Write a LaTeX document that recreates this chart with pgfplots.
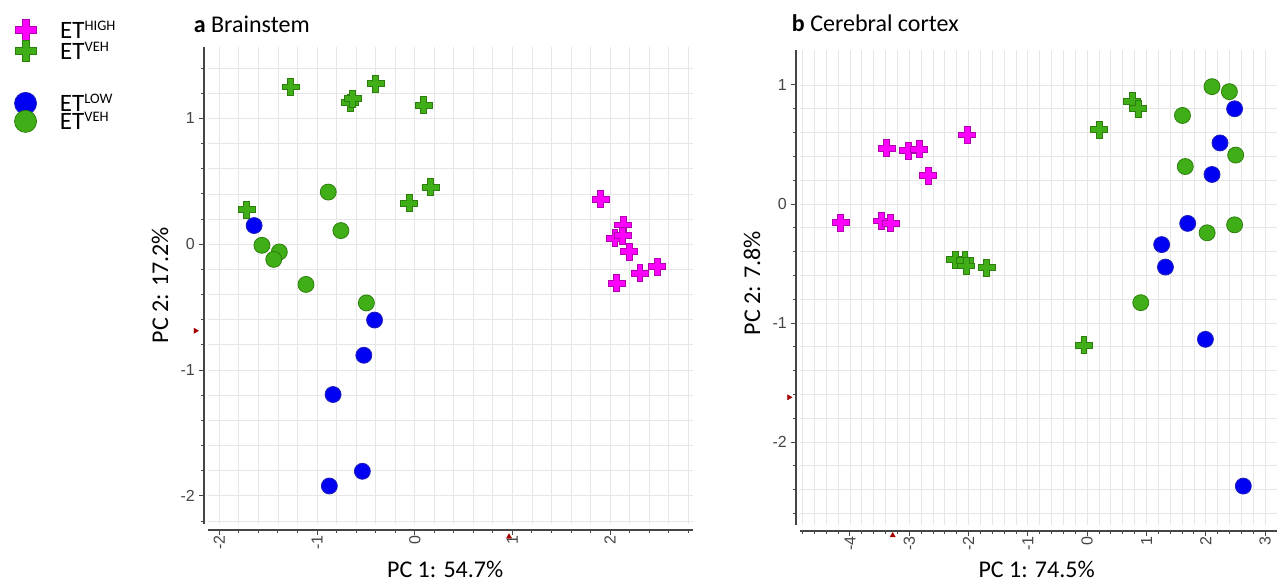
\documentclass[border=0pt]{standalone}
\usepackage{fontspec}
\setmainfont{Carlito}
\newfontfamily\tickfont{Liberation Sans}
\usepackage{pgfplots}
\pgfplotsset{compat=1.18}

\definecolor{mag}{HTML}{FF00FF}
\definecolor{magdark}{HTML}{B000B0}
\definecolor{grn}{HTML}{3FAE17}
\definecolor{grndark}{HTML}{2C7F0C}
\definecolor{blu}{HTML}{0000F2}
\definecolor{bludark}{HTML}{2020B8}
\definecolor{axgray}{HTML}{454545}
\definecolor{gridgray}{HTML}{E6E6E6}

% thick "plus" marker used by SIMCA
\pgfdeclareplotmark{gcross}{%
  \pgfpathmoveto{\pgfqpoint{-0.34\pgfplotmarksize}{\pgfplotmarksize}}%
  \pgfpathlineto{\pgfqpoint{0.34\pgfplotmarksize}{\pgfplotmarksize}}%
  \pgfpathlineto{\pgfqpoint{0.34\pgfplotmarksize}{0.34\pgfplotmarksize}}%
  \pgfpathlineto{\pgfqpoint{\pgfplotmarksize}{0.34\pgfplotmarksize}}%
  \pgfpathlineto{\pgfqpoint{\pgfplotmarksize}{-0.34\pgfplotmarksize}}%
  \pgfpathlineto{\pgfqpoint{0.34\pgfplotmarksize}{-0.34\pgfplotmarksize}}%
  \pgfpathlineto{\pgfqpoint{0.34\pgfplotmarksize}{-\pgfplotmarksize}}%
  \pgfpathlineto{\pgfqpoint{-0.34\pgfplotmarksize}{-\pgfplotmarksize}}%
  \pgfpathlineto{\pgfqpoint{-0.34\pgfplotmarksize}{-0.34\pgfplotmarksize}}%
  \pgfpathlineto{\pgfqpoint{-\pgfplotmarksize}{-0.34\pgfplotmarksize}}%
  \pgfpathlineto{\pgfqpoint{-\pgfplotmarksize}{0.34\pgfplotmarksize}}%
  \pgfpathlineto{\pgfqpoint{-0.34\pgfplotmarksize}{0.34\pgfplotmarksize}}%
  \pgfpathclose
  \pgfusepathqfillstroke}

\newcommand{\supt}[1]{\raisebox{8pt}{\fontsize{14.5}{14.5}\selectfont #1}}

\pgfplotsset{
  pcastyle/.style={
    scale only axis,
    axis lines=left,
    axis line style={-, axgray, line width=1.1pt},
    axis x line shift=6pt,
    axis y line shift=4pt,
    tick align=outside,
    major tick length=5pt, minor tick length=3pt,
    tick style={axgray, line width=1pt},
    xtick distance=1, ytick distance=1,
    minor x tick num=4, minor y tick num=4,
    grid=both,
    major grid style={gridgray, line width=0.9pt},
    minor grid style={gridgray, line width=0.9pt},
    /pgf/number format/assume math mode=true,
    tick label style={font=\tickfont\fontsize{16}{16}\selectfont, text=axgray},
    xticklabel style={rotate=90, anchor=east, inner sep=0pt},
    yticklabel style={anchor=east, inner sep=4pt},
    label style={font=\fontsize{24}{24}\selectfont, inner sep=0pt},
    every axis title shift=0pt,
    title style={font=\fontsize{24}{26}\selectfont, anchor=base west, inner sep=0pt},
    xlabel style={anchor=center},
    ylabel style={anchor=center},
    clip=false,
    legend cell align=left,
  },
  legimg/.style={legend image code/.code={\path (0pt,0pt) (46pt,0pt); \draw[##1] plot coordinates {(12pt,0pt)};}},
  gcr/.style={only marks, mark=gcross, mark size=8.5pt, draw=grndark, fill=grn, line width=0.9pt, forget plot},
  mcr/.style={only marks, mark=gcross, mark size=8.5pt, draw=magdark, fill=mag, line width=0.9pt, forget plot},
  gci/.style={only marks, mark=*, mark size=8pt, draw=grndark, fill=grn, line width=0.8pt, forget plot},
  bci/.style={only marks, mark=*, mark size=8pt, draw=bludark, fill=blu, line width=0.8pt, forget plot},
  redm/.style={only marks, mark=triangle*, mark size=3pt, color=red!65!black, forget plot},
}

\begin{document}
\begin{tikzpicture}
\useasboundingbox (0pt,0pt) rectangle (1277pt,583pt);

% ---- a Brainstem
\begin{axis}[pcastyle,
  at={(208pt,59pt)}, anchor=south west,
  width=485pt, height=477pt,
  xmin=-2.116, xmax=2.848, ymin=-2.223, ymax=1.568,
  title={\textbf{a} Brainstem},
  title style={at={(axis description cs:-0.0295,1.0308)}},
  xlabel={PC 1: 54.7\%},
  xlabel style={at={(axis description cs:0.489,-0.095)}},
  ylabel={PC 2: 17.2\%},
  ylabel style={at={(axis description cs:-0.099,0.501)}},
  legend style={at={(axis description cs:-0.402,1.0587)}, anchor=north west,
    draw=none, fill=none, inner sep=0pt, row sep=0pt,
    font=\fontsize{25}{25}\selectfont,
    nodes={inner sep=0pt, text height=17pt, text depth=0pt}},
]
\addplot[gcr] coordinates {(-1.27,1.25) (-0.66,1.125) (-0.635,1.157) (-0.40,1.277)
  (0.093,1.104) (-1.72,0.274) (-0.055,0.327) (0.161,0.452)};
\addplot[mcr] coordinates {(1.904,0.358) (2.135,0.154) (2.05,0.048) (2.129,0.07)
  (2.196,-0.059) (2.306,-0.231) (2.483,-0.178) (2.067,-0.311)};
\addplot[gci] coordinates {(-0.885,0.415) (-0.756,0.109) (-1.564,-0.008) (-1.386,-0.061)
  (-1.443,-0.12) (-1.113,-0.319) (-0.495,-0.466)};
\addplot[bci] coordinates {(-1.644,0.149) (-0.411,-0.602) (-0.521,-0.882) (-0.836,-1.194)
  (-0.536,-1.804) (-0.874,-1.921)};
\addplot[redm, mark options={rotate=-90}] coordinates {(-2.244,-0.687)};
\addplot[redm] coordinates {(0.965,-2.324)};
\addlegendimage{legimg, mark=gcross, mark size=10.5pt, draw=magdark, fill=mag, line width=1pt}
\addlegendentry{ET\supt{HIGH}}
\addlegendimage{legimg, mark=gcross, mark size=10.5pt, draw=grndark, fill=grn, line width=1pt}
\addlegendentry{ET\supt{VEH}}
\end{axis}

% ---- b Cerebral cortex
\begin{axis}[pcastyle,
  at={(800pt,58pt)}, anchor=south west,
  width=477pt, height=475pt,
  xmin=-4.843, xmax=3.20, ymin=-2.697, ymax=1.294,
  title={\textbf{b} Cerebral cortex},
  title style={at={(axis description cs:-0.0172,1.0385)}},
  xlabel={PC 1: 74.5\%},
  xlabel style={at={(axis description cs:0.496,-0.094)}},
  ylabel={PC 2: 7.8\%},
  ylabel style={at={(axis description cs:-0.1006,0.509)}},
  legend style={at={(axis description cs:-1.650,0.9112)}, anchor=north west,
    draw=none, fill=none, inner sep=0pt, row sep=-4pt,
    font=\fontsize{25}{25}\selectfont,
    nodes={inner sep=0pt, text height=17pt, text depth=0pt}},
]
\addplot[gcr] coordinates {(0.757,0.862) (0.862,0.80) (0.206,0.625) (-2.225,-0.468)
  (-2.06,-0.473) (-2.04,-0.52) (-1.698,-0.535) (-0.057,-1.188)};
\addplot[mcr] coordinates {(-4.157,-0.157) (-3.465,-0.143) (-3.314,-0.162) (-3.38,0.468)
  (-3.017,0.448) (-2.831,0.46) (-2.68,0.238) (-2.022,0.58)};
\addplot[gci] coordinates {(2.104,0.986) (2.397,0.944) (1.606,0.744) (2.503,0.411)
  (1.653,0.315) (2.485,-0.175) (2.022,-0.242) (0.903,-0.829)};
\addplot[bci] coordinates {(2.485,0.80) (2.239,0.513) (2.104,0.248) (1.694,-0.163)
  (1.255,-0.341) (1.319,-0.53) (1.993,-1.137) (2.632,-2.37)};
\addplot[redm, mark options={rotate=-90}] coordinates {(-5.029,-1.624)};
\addplot[redm] coordinates {(-3.28,-2.785)};
\addlegendimage{legimg, mark=*, mark size=11pt, draw=bludark, fill=blu, line width=0.8pt}
\addlegendentry{ET\supt{LOW}}
\addlegendimage{legimg, mark=*, mark size=11pt, draw=grndark, fill=grn, line width=0.8pt}
\addlegendentry{ET\supt{VEH}}
\end{axis}
\end{tikzpicture}
\end{document}
